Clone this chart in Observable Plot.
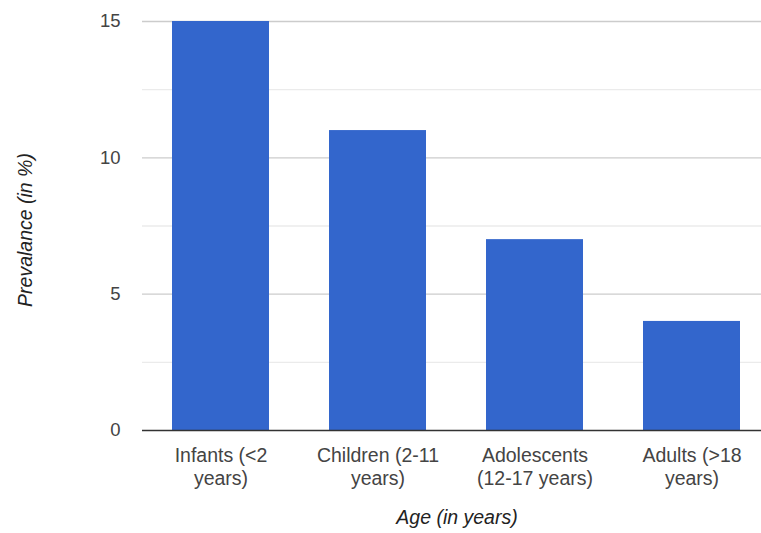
<!DOCTYPE html>
<html>
<head>
<meta charset="utf-8">
<script src="https://cdn.jsdelivr.net/npm/d3@7"></script>
<script src="https://cdn.jsdelivr.net/npm/@observablehq/plot@0.6"></script>
<style>
  html, body { margin: 0; padding: 0; background: #fff; }
</style>
</head>
<body>
<div id="chart"></div>
<script>
const categories = ["Infants", "Children", "Adolescents", "Adults"];
const tickLabels = ["Infants (<2\nyears)", "Children (2-11\nyears)", "Adolescents\n(12-17 years)", "Adults (>18\nyears)"];
const prevalence = [15, 11, 7, 4];
const majorTicks = [0, 5, 10, 15];
const minorTicks = [2.5, 7.5, 12.5];
const xTitle = "Age (in years)";
const yTitle = "Prevalance (in %)";

const data = categories.map((c, i) => ({category: c, value: prevalence[i]}));
const labelOf = new Map(categories.map((c, i) => [c, tickLabels[i]]));

const chart = Plot.plot({
  width: 761,
  height: 533,
  marginLeft: 142,
  marginRight: -10,
  marginTop: 21,
  marginBottom: 103,
  style: {fontFamily: "'Liberation Sans', Arial, sans-serif", fontSize: "19.5px", color: "#444", background: "#fff"},
  x: {domain: categories, paddingInner: 0.38, paddingOuter: 0.19},
  y: {domain: [0, 15]},
  marks: [
    Plot.ruleY(minorTicks, {stroke: "#ebebeb", strokeWidth: 1.4}),
    Plot.ruleY(majorTicks.filter(d => d > 0), {stroke: "#cccccc", strokeWidth: 1.4}),
    Plot.barY(data, {x: "category", y: "value", fill: "#3366cc"}),
    Plot.ruleY([0], {stroke: "#333", strokeWidth: 1.6}),
    Plot.axisY({ticks: majorTicks, tickSize: 0, tickPadding: 22, label: null, fontSize: 18.5, tickFormat: d => String(d)}),
    Plot.axisX({tickSize: 0, tickPadding: 16, label: null, tickFormat: d => labelOf.get(d), lineHeight: 1.15}),
    Plot.text([xTitle], {frameAnchor: "bottom", dy: 93, fontStyle: "italic", fill: "#222", fontSize: 19.5}),
    Plot.text([yTitle], {frameAnchor: "left", dx: -117, dy: 4, rotate: -90, textAnchor: "middle", fontStyle: "italic", fill: "#222", fontSize: 19.5})
  ]
});
document.getElementById("chart").appendChild(chart);
</script>
</body>
</html>
